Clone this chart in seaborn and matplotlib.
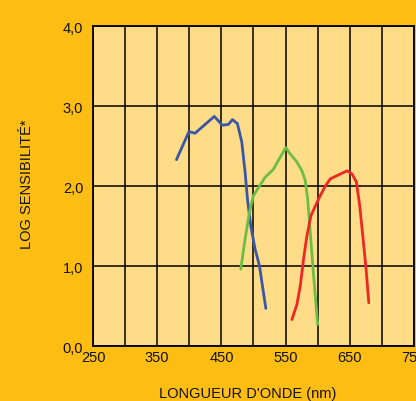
"""Spectral sensitivity of the three cone types (log scale)."""

import matplotlib.pyplot as plt
import numpy as np
import pandas as pd
import seaborn as sns

# blue cone
blue_nm = [380, 399.5, 409, 439, 451.6, 461, 467.2, 475, 481.8, 487, 490.6, 495.8,
           502.6, 509.4, 514, 519.3]
blue_log = [2.33, 2.68, 2.66, 2.87, 2.76, 2.77, 2.83, 2.78, 2.55, 2.17, 1.84, 1.50,
            1.21, 1.00, 0.75, 0.47]

# green cone
green_nm = [480.2, 487, 493.7, 500, 507.8, 518.2, 531.2, 541.6, 550.5, 557.3, 567.7,
            575.5, 580.7, 584.4, 588.5, 593.7, 600]
green_log = [0.96, 1.34, 1.67, 1.88, 1.98, 2.11, 2.21, 2.36, 2.48, 2.40, 2.30,
             2.19, 2.07, 1.84, 1.42, 0.88, 0.27]

# red cone
red_nm = [559.9, 567.7, 572.9, 578.1, 583.3, 589.6, 596.4, 604.1, 612, 619.8, 627.6,
          635.4, 645.8, 653.6, 660.4, 665.6, 670.8, 675.5, 679.7]
red_log = [0.33, 0.52, 0.75, 1.09, 1.38, 1.63, 1.75, 1.88, 2.00, 2.09, 2.12,
           2.15, 2.19, 2.15, 2.05, 1.75, 1.34, 0.96, 0.54]

x_labels = ["250", "350", "450", "550", "650", "750"]
y_labels = ["0,0", "1,0", "2,0", "3,0", "4,0"]

ORANGE = "#FDBD13"
PANEL = "#FFDC88"
COLORS = {"bleu": "#3A57A7", "vert": "#6CBD45", "rouge": "#EE2724"}

sns.set_theme(style="white")
plt.rcParams["font.family"] = ["Liberation Sans", "DejaVu Sans"]

df = pd.concat([
    pd.DataFrame({"nm": blue_nm, "log": blue_log, "cone": "bleu"}),
    pd.DataFrame({"nm": green_nm, "log": green_log, "cone": "vert"}),
    pd.DataFrame({"nm": red_nm, "log": red_log, "cone": "rouge"}),
])

fig = plt.figure(figsize=(4.16, 4.02), dpi=100, facecolor=ORANGE)
ax = fig.add_axes([0.2236, 0.1368, 0.7714, 0.796])
ax.set_facecolor(PANEL)

sns.lineplot(data=df, x="nm", y="log", hue="cone", palette=COLORS, estimator=None,
             sort=False, linewidth=2.0, legend=False, ax=ax, zorder=3)

ax.set_xlim(250, 750)
ax.set_ylim(0, 4)
ax.set_xticks([int(v) for v in x_labels])
ax.set_xticklabels(x_labels)
ax.set_xticks(np.arange(300, 750, 100), minor=True)
ax.set_yticks(np.arange(len(y_labels)))
ax.set_yticklabels(y_labels)
ax.grid(True, which="both", color="black", linewidth=1.1, zorder=1)
ax.tick_params(which="both", length=0, labelsize=10.5, colors="#111111")
ax.tick_params(axis="x", pad=3)
ax.tick_params(axis="y", pad=7)
for s in ax.spines.values():
    s.set_color("black")
    s.set_linewidth(1.3)

ax.set_xlabel("LONGUEUR D'ONDE (nm)", fontsize=10.5, color="#111111")
ax.xaxis.set_label_coords((248 - 93) / 321, -0.125)
ax.set_ylabel("LOG SENSIBILITÉ*", fontsize=10.5, color="#111111")
ax.yaxis.set_label_coords(-0.185, 0.51)

fig.savefig("out.png", dpi=100, facecolor=ORANGE)
